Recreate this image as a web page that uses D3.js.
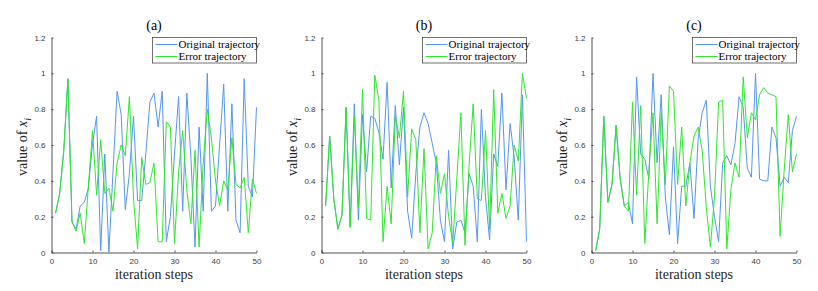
<!DOCTYPE html>
<html>
<head>
<meta charset="utf-8">
<script src="https://cdn.jsdelivr.net/npm/d3@7"></script>
<style>
  body { margin: 0; background: #fff; }
  svg { display: block; }
</style>
</head>
<body>
<svg id="chart" width="818" height="291"></svg>
<script>
// values, steps 1..50
const steps = d3.range(1, 51);
const panelTitles = ["(a)", "(b)", "(c)"];
const legendLabels = ["Original trajectory", "Error trajectory"];
const yTicks = [0, 0.2, 0.4, 0.6, 0.8, 1, 1.2];
const xTicks = [0, 10, 20, 30, 40, 50];

const originalA = [0.22, 0.33, 0.57, 0.97, 0.17, 0.13, 0.26, 0.28, 0.36, 0.61,
                   0.76, 0.01, 0.55, 0.0, 0.45, 0.9, 0.77, 0.24, 0.44, 0.76,
                   0.29, 0.29, 0.55, 0.84, 0.89, 0.7, 0.9, 0.06, 0.2, 0.55,
                   0.87, 0.23, 0.89, 0.53, 0.03, 0.7, 0.23, 1.0, 0.23, 0.26,
                   0.6, 0.94, 0.23, 0.83, 0.18, 0.11, 0.97, 0.37, 0.31, 0.81];
const errorA = [0.22, 0.33, 0.57, 0.97, 0.17, 0.12, 0.22, 0.05, 0.37, 0.68,
                0.32, 0.63, 0.33, 0.36, 0.23, 0.5, 0.6, 0.54, 0.87, 0.3,
                0.02, 0.53, 0.38, 0.39, 0.5, 0.06, 0.06, 0.73, 0.7, 0.05,
                0.45, 0.68, 0.35, 0.16, 0.57, 0.03, 0.5, 0.8, 0.64, 0.4,
                0.26, 0.4, 0.35, 0.64, 0.38, 0.36, 0.42, 0.11, 0.41, 0.33];

const originalB = [0.26, 0.65, 0.3, 0.13, 0.21, 0.81, 0.14, 0.83, 0.18, 0.77,
                   0.45, 0.76, 0.75, 0.67, 0.52, 0.95, 0.36, 0.82, 0.49, 0.81,
                   0.23, 0.08, 0.44, 0.7, 0.78, 0.72, 0.61, 0.5, 0.18, 0.06,
                   0.57, 0.02, 0.17, 0.18, 0.11, 0.44, 0.37, 0.06, 0.8, 0.31,
                   0.07, 0.55, 0.48, 0.89, 0.35, 0.72, 0.53, 0.18, 0.88, 0.06];
const errorB = [0.26, 0.65, 0.3, 0.13, 0.21, 0.81, 0.14, 0.76, 0.25, 0.91,
                0.19, 0.18, 0.99, 0.85, 0.06, 0.37, 0.16, 0.76, 0.64, 0.9,
                0.31, 0.69, 0.63, 0.11, 0.58, 0.02, 0.11, 0.54, 0.33, 0.44,
                0.2, 0.05, 0.41, 0.78, 0.04, 0.49, 0.83, 0.3, 0.29, 0.68,
                0.13, 0.91, 0.22, 0.33, 0.19, 0.26, 0.6, 0.51, 1.0, 0.86];

const originalC = [0.01, 0.13, 0.76, 0.28, 0.38, 0.71, 0.41, 0.26, 0.28, 0.16,
                   0.98, 0.55, 0.52, 0.41, 1.0, 0.5, 0.88, 0.31, 0.1, 0.59,
                   0.05, 0.37, 0.37, 0.5, 0.19, 0.63, 0.78, 0.85, 0.37, 0.2,
                   0.06, 0.5, 0.54, 0.49, 0.61, 0.87, 0.81, 0.47, 0.42, 1.0,
                   0.41, 0.4, 0.4, 0.7, 0.64, 0.37, 0.42, 0.39, 0.68, 0.76];
const errorC = [0.01, 0.13, 0.76, 0.28, 0.38, 0.71, 0.41, 0.26, 0.23, 0.84,
                0.32, 0.82, 0.05, 0.46, 0.78, 0.16, 0.78, 0.38, 0.93, 0.9,
                0.38, 0.7, 0.26, 0.5, 0.65, 0.7, 0.57, 0.25, 0.03, 0.31,
                0.84, 0.85, 0.02, 0.35, 0.5, 0.42, 0.98, 0.64, 0.78, 0.74,
                0.88, 0.92, 0.89, 0.88, 0.87, 0.09, 0.46, 0.77, 0.45, 0.55];

const panels = [
    { title: panelTitles[0], original: originalA, error: errorA, left: 51.5 },
    { title: panelTitles[1], original: originalB, error: errorB, left: 321.5 },
    { title: panelTitles[2], original: originalC, error: errorC, left: 591.5 }
];

const blue = "#5596ee";
const green = "#2ee62e";
const axisColor = "#262626";
const plotW = 205;
const plotTop = 37.5;
const plotBottom = 252.5;

const svg = d3.select("#chart");

panels.forEach((p, k) => {
    const g = svg.append("g").attr("transform", `translate(${p.left},0)`);

    const x = d3.scaleLinear().domain([0, 50]).range([0, plotW]);
    const y = d3.scaleLinear().domain([0, 1.2]).range([plotBottom, plotTop]);

    // axes, MATLAB style (ticks pointing inwards)
    const xAxis = g.append("g")
        .attr("transform", `translate(0,${plotBottom})`)
        .call(d3.axisBottom(x).tickValues(xTicks).tickSizeInner(-2).tickSizeOuter(0).tickPadding(6));
    const yAxis = g.append("g")
        .call(d3.axisLeft(y).tickValues(yTicks).tickSizeInner(-2).tickSizeOuter(0).tickPadding(6)
            .tickFormat(d => d3.format("~g")(d)));

    [xAxis, yAxis].forEach(a => {
        a.select(".domain").attr("stroke", axisColor).attr("stroke-width", 0.8);
        a.selectAll(".tick line").attr("stroke", axisColor).attr("stroke-width", 0.8);
        a.selectAll(".tick text")
            .attr("fill", "#404040")
            .style("font-family", "Liberation Sans, Arial, sans-serif")
            .style("font-size", "8px");
    });

    const line = d3.line()
        .x((d, i) => x(steps[i]))
        .y(d => y(d));

    g.append("path")
        .datum(p.original)
        .attr("d", line)
        .attr("fill", "none")
        .attr("stroke", blue)
        .attr("stroke-width", 1);

    g.append("path")
        .datum(p.error)
        .attr("d", line)
        .attr("fill", "none")
        .attr("stroke", green)
        .attr("stroke-width", 1);

    // title
    g.append("text")
        .attr("x", plotW / 2)
        .attr("y", 30)
        .attr("text-anchor", "middle")
        .style("font-family", "Liberation Serif, Times New Roman, serif")
        .style("font-size", "14px")
        .attr("fill", "#000")
        .text(p.title);

    // x label
    g.append("text")
        .attr("x", plotW / 2)
        .attr("y", 279)
        .attr("text-anchor", "middle")
        .style("font-family", "Liberation Serif, Times New Roman, serif")
        .style("font-size", "14px")
        .attr("fill", "#262626")
        .text("iteration steps");

    // y label
    const yl = g.append("text")
        .attr("transform", `translate(-25,${(plotTop + plotBottom) / 2 + 2}) rotate(-90)`)
        .attr("text-anchor", "middle")
        .style("font-family", "Liberation Serif, Times New Roman, serif")
        .style("font-size", "14px")
        .attr("fill", "#262626");
    yl.append("tspan").text("value of ");
    yl.append("tspan").style("font-style", "italic").text("x");
    yl.append("tspan").attr("dy", 4).attr("font-size", "10px").style("font-style", "italic").text("i");

    // legend
    const legW = 104, legH = 25.5;
    const lg = g.append("g").attr("transform", `translate(${plotW - legW},${plotTop})`);
    lg.append("rect")
        .attr("width", legW)
        .attr("height", legH)
        .attr("fill", "#fff")
        .attr("stroke", "#333")
        .attr("stroke-width", 0.7);
    [blue, green].forEach((c, i) => {
        const yy = 7 + i * 12;
        lg.append("line")
            .attr("x1", 3).attr("x2", 25)
            .attr("y1", yy).attr("y2", yy)
            .attr("stroke", c)
            .attr("stroke-width", 1);
        lg.append("text")
            .attr("x", 26)
            .attr("y", yy)
            .attr("dy", "0.35em")
            .style("font-family", "Liberation Serif, Times New Roman, serif")
            .style("font-size", "11px")
            .attr("fill", "#000")
            .text(legendLabels[i]);
    });
});
</script>
</body>
</html>
